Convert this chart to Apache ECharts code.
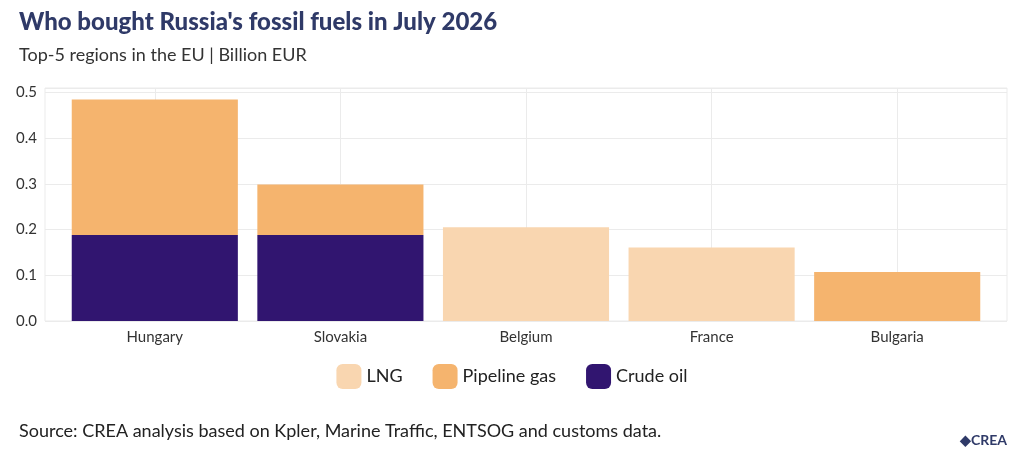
<!DOCTYPE html><html><head><meta charset="utf-8"><script src="https://cdn.jsdelivr.net/npm/echarts@6/dist/echarts.min.js"></script>
<style>body{margin:0;background:#fff}#c{width:1024px;height:455px}</style></head><body><div id="c"></div><script>
const categories=['Hungary','Slovakia','Belgium','France','Bulgaria'];
const lng=[0,0,0.205,0.161,0];
const pipeline=[0.297,0.111,0,0,0.107];
const crude=[0.188,0.188,0,0,0];
const yTicks=[0,0.1,0.2,0.3,0.4,0.5];
const F='"Open Sans", Lato, sans-serif';
const ch=echarts.init(document.getElementById('c'));
const mk=(n,d,c)=>({name:n,type:'bar',stack:'a',xAxisIndex:0,yAxisIndex:0,data:d.map(v=>v||null),itemStyle:{color:c},barCategoryGap:'10.5%'});
ch.setOption({
 animation:false,
 title:[{text:"Who bought Russia's fossil fuels in July 2026",left:14,top:5,textStyle:{fontFamily:'Lato',fontSize:24,fontWeight:900,color:'#2f3a68'}},
  {text:'Top-5 regions in the EU | Billion EUR',left:14,top:41,textStyle:{fontFamily:'Lato',fontSize:18,fontWeight:'normal',color:'#333'}},
  {text:'Source: CREA analysis based on Kpler, Marine Traffic, ENTSOG and customs data.',left:14,top:417,textStyle:{fontFamily:'Lato',fontSize:18,fontWeight:'normal',color:'#222'}},
  {text:'◆CREA',right:12,top:428,textStyle:{fontFamily:'Lato',fontSize:14,fontWeight:'bold',color:'#2f3a68'}}],
 legend:{bottom:61,left:'center',itemWidth:25,itemHeight:25,itemGap:30,textStyle:{fontFamily:'Lato',fontSize:18,color:'#222'},data:['LNG','Pipeline gas','Crude oil']},
 grid:[{left:62,right:34,top:88,bottom:134},{left:45,right:17,top:88,bottom:134,show:true,borderColor:'#ebebeb',borderWidth:1}],
 xAxis:[{type:'category',gridIndex:0,data:categories,axisLine:{show:false},axisTick:{show:false},axisLabel:{fontFamily:'Lato',fontSize:15,color:'#333',margin:9},splitLine:{show:false}},
  {type:'category',gridIndex:0,data:['','','','','','','','','',''],axisLabel:{show:false},axisLine:{show:false},axisTick:{show:false},splitLine:{show:true,interval:0,lineStyle:{color:['transparent','#ebebeb']}}},
  {type:'value',gridIndex:1,show:false}],
 yAxis:[{type:'value',gridIndex:0,min:0,max:0.51,show:false},
  {type:'value',gridIndex:1,min:0,max:0.51,interval:0.1,axisLabel:{fontFamily:'Lato',fontSize:15,color:'#333',formatter:v=>v.toFixed(1),showMaxLabel:false},splitLine:{lineStyle:{color:'#ebebeb'}},axisLine:{show:false},axisTick:{show:false}}],
 series:[mk('Crude oil',crude,'#311570'),mk('Pipeline gas',pipeline,'#f5b46e'),mk('LNG',lng,'#f9d6b0')]
});
</script></body></html>
